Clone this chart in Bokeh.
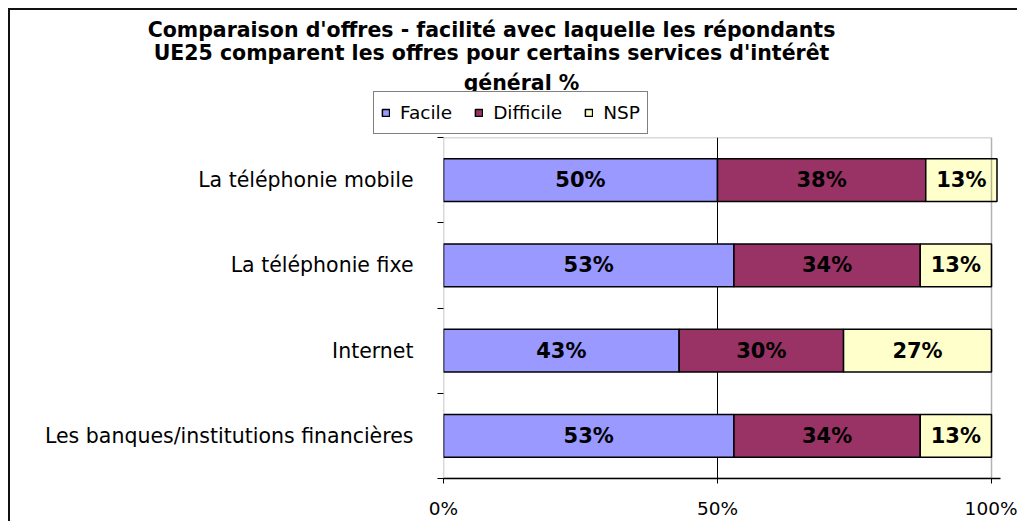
from bokeh.plotting import figure
from bokeh.models import Range1d, FixedTicker, Legend, LegendItem, Label, BoxAnnotation, ColumnDataSource
from bokeh.embed import file_html
from bokeh.resources import INLINE
from bokeh.core.properties import value

# ---- data ----
categories = ["La téléphonie mobile", "La téléphonie fixe", "Internet",
              "Les banques/institutions financières"]
series_names = ["Facile", "Difficile", "NSP"]
facile = [50, 53, 43, 53]
difficile = [38, 34, 30, 34]
nsp = [13, 13, 27, 13]
x_ticks = [0, 50, 100]
x_tick_labels = ["0%", "50%", "100%"]
title_lines = ["Comparaison d'offres - facilité avec laquelle les répondants",
               "UE25 comparent les offres pour certains services d'intérêt",
               "général %"]
colors = ["#9999FF", "#993366", "#FFFFCC"]

FONT = "DejaVu Sans"
n = len(categories)
ypos = [n - i - 0.5 for i in range(n)]

# ---------------- header (title + legend) ----------------
head = figure(width=1009, height=127, x_axis_type=None, y_axis_type=None,
              x_range=Range1d(0, 1), y_range=Range1d(0, 1),
              output_backend="svg", toolbar_location=None, title_location=None,
              min_border=0)
head.border_fill_color = None
head.background_fill_color = None
head.outline_line_color = None
head.grid.grid_line_color = None
head.styles = {"margin-left": "8px", "margin-top": "8px",
               "box-shadow": "inset 2px 2px 0 0 #111111"}

title_pos = [(483, 106), (483, 83), (513, 53)]
for (tx, ty), line in zip(title_pos, title_lines):
    head.add_layout(Label(x=tx, y=ty, x_units="screen", y_units="screen", text=line,
                          text_align="center", text_baseline="alphabetic",
                          text_font=FONT, text_font_style="bold",
                          text_font_size="20.5px", text_color="black"))

# legend proxies: one row each, placed outside the visible ranges (draw nothing)
proxies = []
for col in colors:
    proxies.append(head.hbar(y=[-3], left=[-3], right=[-2], height=0.5,
                             fill_color=col, line_color="black", line_width=1.5))
legend = Legend(items=[LegendItem(label=nm, renderers=[r]) for nm, r in zip(series_names, proxies)],
                orientation="horizontal", location=(365, 1))
legend.label_text_font = FONT
legend.label_text_font_size = "18.5px"
legend.label_text_color = "black"
legend.glyph_width = 9
legend.glyph_height = 9
legend.label_standoff = 10
legend.spacing = 22
legend.padding = 7
legend.margin = 0
legend.label_height = 27
legend.border_line_color = "black"
legend.border_line_width = 1
legend.background_fill_color = "white"
legend.background_fill_alpha = 1
head.add_layout(legend, "center")

# ---------------- main chart ----------------
p = figure(frame_width=557, frame_height=341,
           x_range=Range1d(0, 101.64), y_range=Range1d(0, n),
           output_backend="svg", toolbar_location=None, title_location=None,
           min_border_left=435, min_border_right=17,
           min_border_top=2, min_border_bottom=43)
p.border_fill_color = None
p.background_fill_color = "white"
p.outline_line_color = None
p.styles = {"margin-left": "8px", "box-shadow": "inset 2px 0 0 0 #111111"}

series = [facile, difficile, nsp]
lefts = [0] * n
for name, vals, col in zip(series_names, series, colors):
    rights = [l + v for l, v in zip(lefts, vals)]
    src = ColumnDataSource(dict(y=ypos, left=lefts, right=rights,
                                mid=[(l + r) / 2 for l, r in zip(lefts, rights)],
                                lab=[f"{v}%" for v in vals]))
    p.hbar(y="y", left="left", right="right", height=0.5, source=src,
           fill_color=col, line_color="black", line_width=1.5)
    p.text(x="mid", y="y", text="lab", source=src, text_align="center",
           text_baseline="middle", text_font=value(FONT), text_font_style="bold",
           text_font_size="21px", text_color="black")
    lefts = rights

# plot area border (0..100%)
p.add_layout(BoxAnnotation(left=0, right=100, fill_color=None,
                           line_color="black", line_width=1.5))

# grid
p.ygrid.grid_line_color = None
p.xgrid.ticker = FixedTicker(ticks=[50])
p.xgrid.grid_line_color = "black"
p.xgrid.grid_line_width = 1

# x axis
p.xaxis.ticker = FixedTicker(ticks=x_ticks)
p.xaxis.major_label_overrides = {t: l for t, l in zip(x_ticks, x_tick_labels)}
p.xaxis.axis_line_color = "black"
p.xaxis.axis_line_width = 1.5
p.xaxis.major_tick_out = 5
p.xaxis.major_tick_in = 0
p.xaxis.major_tick_line_color = "black"
p.xaxis.minor_tick_line_color = None
p.xaxis.major_label_standoff = 14
p.xaxis.major_label_text_font = FONT
p.xaxis.major_label_text_font_size = "18.5px"
p.xaxis.major_label_text_color = "black"

# y axis
p.yaxis.ticker = FixedTicker(ticks=ypos, minor_ticks=list(range(n + 1)))
p.yaxis.major_label_overrides = {y: c for y, c in zip(ypos, categories)}
p.yaxis.axis_line_color = None
p.yaxis.major_tick_line_color = None
p.yaxis.major_tick_out = 0
p.yaxis.major_tick_in = 0
p.yaxis.minor_tick_out = 6
p.yaxis.minor_tick_in = 0
p.yaxis.minor_tick_line_color = "black"
p.yaxis.major_label_standoff = 24
p.yaxis.major_label_text_font = FONT
p.yaxis.major_label_text_font_size = "20.5px"
p.yaxis.major_label_text_color = "black"

open("out.html", "w").write(file_html([head, p], INLINE))
